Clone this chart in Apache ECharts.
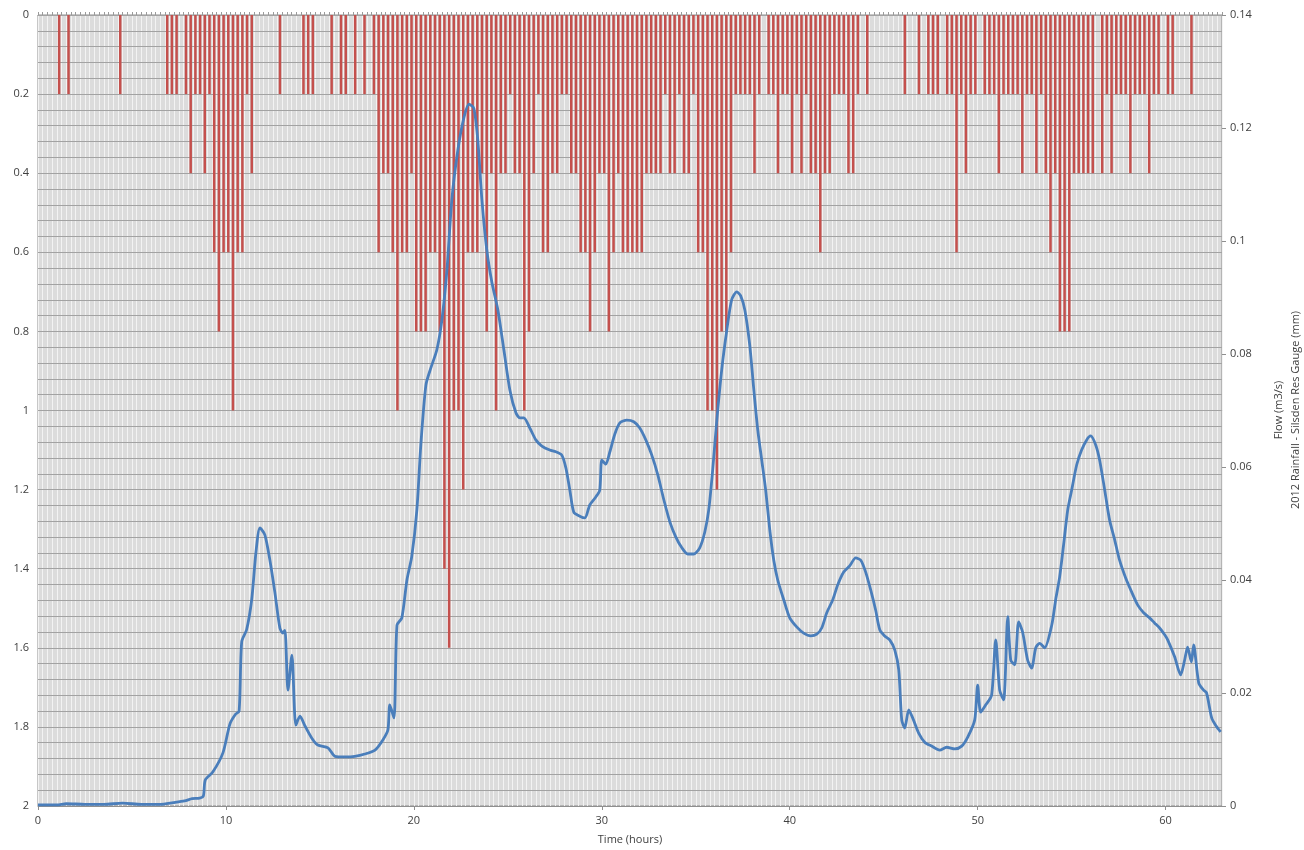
<!DOCTYPE html>
<html><head><meta charset="utf-8">
<script src="https://cdn.jsdelivr.net/npm/echarts@6/dist/echarts.min.js"></script>
<style>html,body{margin:0;padding:0;background:#fff}#c{width:1304px;height:850px}</style>
</head><body><div id="c"></div>
<script>
// Rainfall (mm) per 15-minute interval, starting at hour 0
const rainStepHours = 0.25;
const rainfall = [
 0,0,0,0,0.2,0,0.2,0,0,0,
 0,0,0,0,0,0,0,0.2,0,0,
 0,0,0,0,0,0,0,0.2,0.2,0.2,
 0,0.2,0.4,0.2,0.2,0.4,0.2,0.6,0.8,0.6,
 0.6,1.0,0.6,0.6,0.2,0.4,0,0,0,0,
 0,0.2,0,0,0,0,0.2,0.2,0.2,0,
 0,0,0.2,0,0.2,0.2,0,0.2,0,0.2,
 0,0.2,0.6,0.4,0.4,0.6,1.0,0.6,0.6,0.4,
 0.8,0.8,0.8,0.6,0.6,0.8,1.4,1.6,1.0,1.0,
 1.2,0.6,0.6,0.6,0.4,0.8,0.4,1.0,0.4,0.4,
 0.2,0.4,0.4,1.0,0.8,0.4,0.2,0.6,0.6,0.4,
 0.4,0.2,0.2,0.4,0.4,0.6,0.6,0.8,0.6,0.4,
 0.4,0.8,0.6,0.4,0.6,0.6,0.6,0.6,0.6,0.4,
 0.4,0.4,0.4,0.2,0.4,0.4,0.2,0.4,0.4,0.2,
 0.6,0.6,1.0,1.0,1.2,0.8,0.8,0.6,0.2,0.2,
 0.2,0.2,0.4,0.2,0,0.2,0.2,0.4,0.2,0.2,
 0.4,0.2,0.4,0.2,0.4,0.4,0.6,0.4,0.4,0.2,
 0.2,0.2,0.4,0.4,0.2,0,0.2,0,0,0,
 0,0,0,0,0.2,0,0,0.2,0,0.2,
 0.2,0.2,0,0.2,0.2,0.6,0.2,0.4,0.2,0.2,
 0,0.2,0.2,0.2,0.4,0.2,0.2,0.2,0.2,0.4,
 0.2,0.2,0.4,0.2,0.4,0.6,0.4,0.8,0.8,0.8,
 0.4,0.4,0.4,0.4,0.4,0,0.4,0.2,0.4,0.2,
 0.2,0.2,0.4,0.2,0.2,0.2,0.4,0.2,0.2,0,
 0.2,0.2,0,0,0,0.2,0,0,0,0,
 0,0
];
// Flow (m3/s)
const flowTime = [0,1,1.5,2.5,3.5,4.5,5.5,6.5,7.2,7.8,8.2,8.6,8.8,8.9,9.3,9.84,10.21,10.5,10.7,10.84,11.1,11.37,11.6,11.81,12.07,12.34,12.6,12.87,13.03,13.14,13.3,13.51,13.72,13.94,14.2,14.57,14.89,15.43,15.8,16.33,16.86,17.39,17.93,18.35,18.62,18.72,18.94,19.1,19.36,19.63,19.89,20.16,20.37,20.64,20.9,21.22,21.49,21.76,22.02,22.34,22.66,22.93,23.19,23.4,23.62,23.88,24.15,24.47,24.79,25.11,25.43,25.64,25.85,26.17,26.49,26.81,27.23,27.55,27.87,28.09,28.3,28.51,28.83,29.1,29.36,29.68,29.89,30.0,30.21,30.43,30.69,30.96,31.33,31.7,32.02,32.34,32.66,32.98,33.3,33.62,33.94,34.26,34.57,34.89,35.21,35.48,35.69,35.9,36.12,36.38,36.65,36.91,37.18,37.39,37.61,37.87,38.09,38.3,38.51,38.72,38.94,39.15,39.36,39.68,40.0,40.37,40.74,41.12,41.44,41.7,41.97,42.29,42.55,42.87,43.19,43.51,43.78,44.04,44.31,44.57,44.79,45.05,45.32,45.59,45.8,45.96,46.12,46.33,46.54,46.86,47.18,47.55,47.98,48.35,48.78,49.15,49.47,49.84,50.0,50.16,50.43,50.74,50.96,51.17,51.38,51.6,51.76,51.97,52.18,52.39,52.66,52.87,53.09,53.3,53.56,53.94,54.15,54.36,54.57,54.79,55.0,55.27,55.53,55.8,56.01,56.28,56.49,56.76,57.02,57.29,57.55,57.87,58.19,58.51,58.83,59.15,59.41,59.68,59.95,60.11,60.48,60.8,61.01,61.17,61.37,61.49,61.76,62.02,62.18,62.45,62.66,62.93];
const flowValue = [0.0002,0.0002,0.0004,0.0003,0.0003,0.0005,0.0003,0.0003,0.0006,0.0009,0.0013,0.0014,0.0018,0.0046,0.006,0.0094,0.0145,0.0162,0.0168,0.0291,0.0312,0.0365,0.045,0.0492,0.048,0.0435,0.0379,0.0315,0.0306,0.0311,0.0205,0.0267,0.0143,0.0159,0.0142,0.012,0.0108,0.0103,0.0088,0.0087,0.0088,0.0092,0.0099,0.0117,0.0135,0.0179,0.0156,0.032,0.0333,0.04,0.0442,0.0524,0.0639,0.0745,0.0775,0.0807,0.086,0.0949,0.1073,0.1161,0.1218,0.1242,0.1235,0.1179,0.1073,0.0984,0.0927,0.0878,0.0807,0.0736,0.0696,0.0687,0.0687,0.0669,0.0648,0.0637,0.063,0.0627,0.0621,0.0598,0.0559,0.052,0.0513,0.051,0.0533,0.0547,0.0559,0.0612,0.0605,0.0627,0.0658,0.0678,0.0683,0.068,0.0669,0.0648,0.0621,0.0586,0.0542,0.0503,0.0476,0.0457,0.0446,0.0446,0.0457,0.0485,0.0524,0.0595,0.0683,0.0772,0.0842,0.0896,0.091,0.0903,0.0878,0.0816,0.0736,0.0665,0.0612,0.0559,0.0488,0.0435,0.04,0.0365,0.0333,0.0317,0.0306,0.0301,0.0304,0.0315,0.0342,0.0365,0.0391,0.0414,0.0425,0.0439,0.0435,0.0414,0.0382,0.0347,0.0312,0.0301,0.0294,0.0276,0.0241,0.0152,0.0138,0.017,0.0156,0.0129,0.0113,0.0106,0.0099,0.0104,0.0101,0.0106,0.0122,0.0152,0.0214,0.0166,0.0179,0.0196,0.0294,0.0205,0.0188,0.0335,0.0258,0.025,0.0326,0.0308,0.0258,0.0244,0.028,0.0288,0.028,0.032,0.0365,0.0405,0.0462,0.0524,0.0559,0.0604,0.063,0.0648,0.0655,0.0639,0.0612,0.0559,0.0506,0.0471,0.0435,0.0404,0.0379,0.0356,0.0342,0.0333,0.0324,0.0315,0.0303,0.0294,0.0264,0.0232,0.0258,0.0281,0.0255,0.0285,0.0218,0.0205,0.02,0.0156,0.0143,0.0131];

const fontFamily = 'Open Sans';
const chart = echarts.init(document.getElementById('c'));
const rainData = rainfall.map((v, i) => [(i + 0.5) * rainStepHours, v]);
const flowData = flowTime.map((t, i) => [t, flowValue[i]]);
const labelStyle = {color: '#404040', fontSize: 11, fontFamily: fontFamily};

chart.setOption({
  animation: false,
  grid: {left: 38, right: 82, top: 15, bottom: 44, show: true, backgroundColor: '#dcdcdc', borderColor: '#8f8f8f', borderWidth: 1},
  xAxis: [
    {type: 'value', min: 0, max: 63, interval: 10, position: 'bottom', z: 3,
     axisLine: {show: true, onZero: false, lineStyle: {color: '#8f8f8f'}},
     axisTick: {show: true, length: 4, lineStyle: {color: '#8f8f8f'}},
     axisLabel: Object.assign({margin: 9, showMaxLabel: false}, labelStyle),
     splitLine: {show: false},
     name: 'Time (hours)', nameLocation: 'middle', nameGap: 28, nameTextStyle: labelStyle},
    {type: 'value', min: 0, max: 63, interval: 0.25, position: 'top', z: 0,
     axisLine: {show: true, onZero: false, lineStyle: {color: '#9a9a9a'}},
     axisTick: {show: true, length: 3, lineStyle: {color: '#9a9a9a'}},
     axisLabel: {show: false},
     splitLine: {show: true, lineStyle: {color: '#f3f3f3', width: 1}}}
  ],
  yAxis: [
    {type: 'value', min: 0, max: 2, interval: 0.2, inverse: true, position: 'left', z: 1,
     axisLine: {show: false, onZero: false}, axisTick: {show: false},
     axisLabel: Object.assign({margin: 9}, labelStyle),
     splitLine: {show: true, lineStyle: {color: '#a3a3a3'}},
     minorTick: {show: false, splitNumber: 5},
     minorSplitLine: {show: true, lineStyle: {color: '#a3a3a3'}}},
    {type: 'value', min: 0, max: 0.14, interval: 0.02, position: 'right', z: 1,
     axisLine: {show: false, onZero: false},
     axisTick: {show: true, length: 4, lineStyle: {color: '#8f8f8f'}},
     axisLabel: Object.assign({margin: 8}, labelStyle),
     splitLine: {show: false}}
  ],
  graphic: [
    {type: 'text', x: 1279, y: 410, rotation: Math.PI / 2,
     style: {text: 'Flow (m3/s)', align: 'center', verticalAlign: 'middle', font: '11px "Open Sans"', fill: '#404040'}},
    {type: 'text', x: 1296, y: 410, rotation: Math.PI / 2,
     style: {text: '2012 Rainfall - Silsden Res Gauge (mm)', align: 'center', verticalAlign: 'middle', font: '11px "Open Sans"', fill: '#404040'}}
  ],
  series: [
    {name: 'Rainfall', type: 'bar', xAxisIndex: 0, yAxisIndex: 0, data: rainData,
     barWidth: 2.5, itemStyle: {color: '#c4504d'}, z: 4},
    {name: 'Flow', type: 'line', xAxisIndex: 0, yAxisIndex: 1, data: flowData,
     showSymbol: false, smooth: 0.25, lineStyle: {color: '#4a7ebb', width: 2.8}, z: 5}
  ]
});
</script></body></html>
